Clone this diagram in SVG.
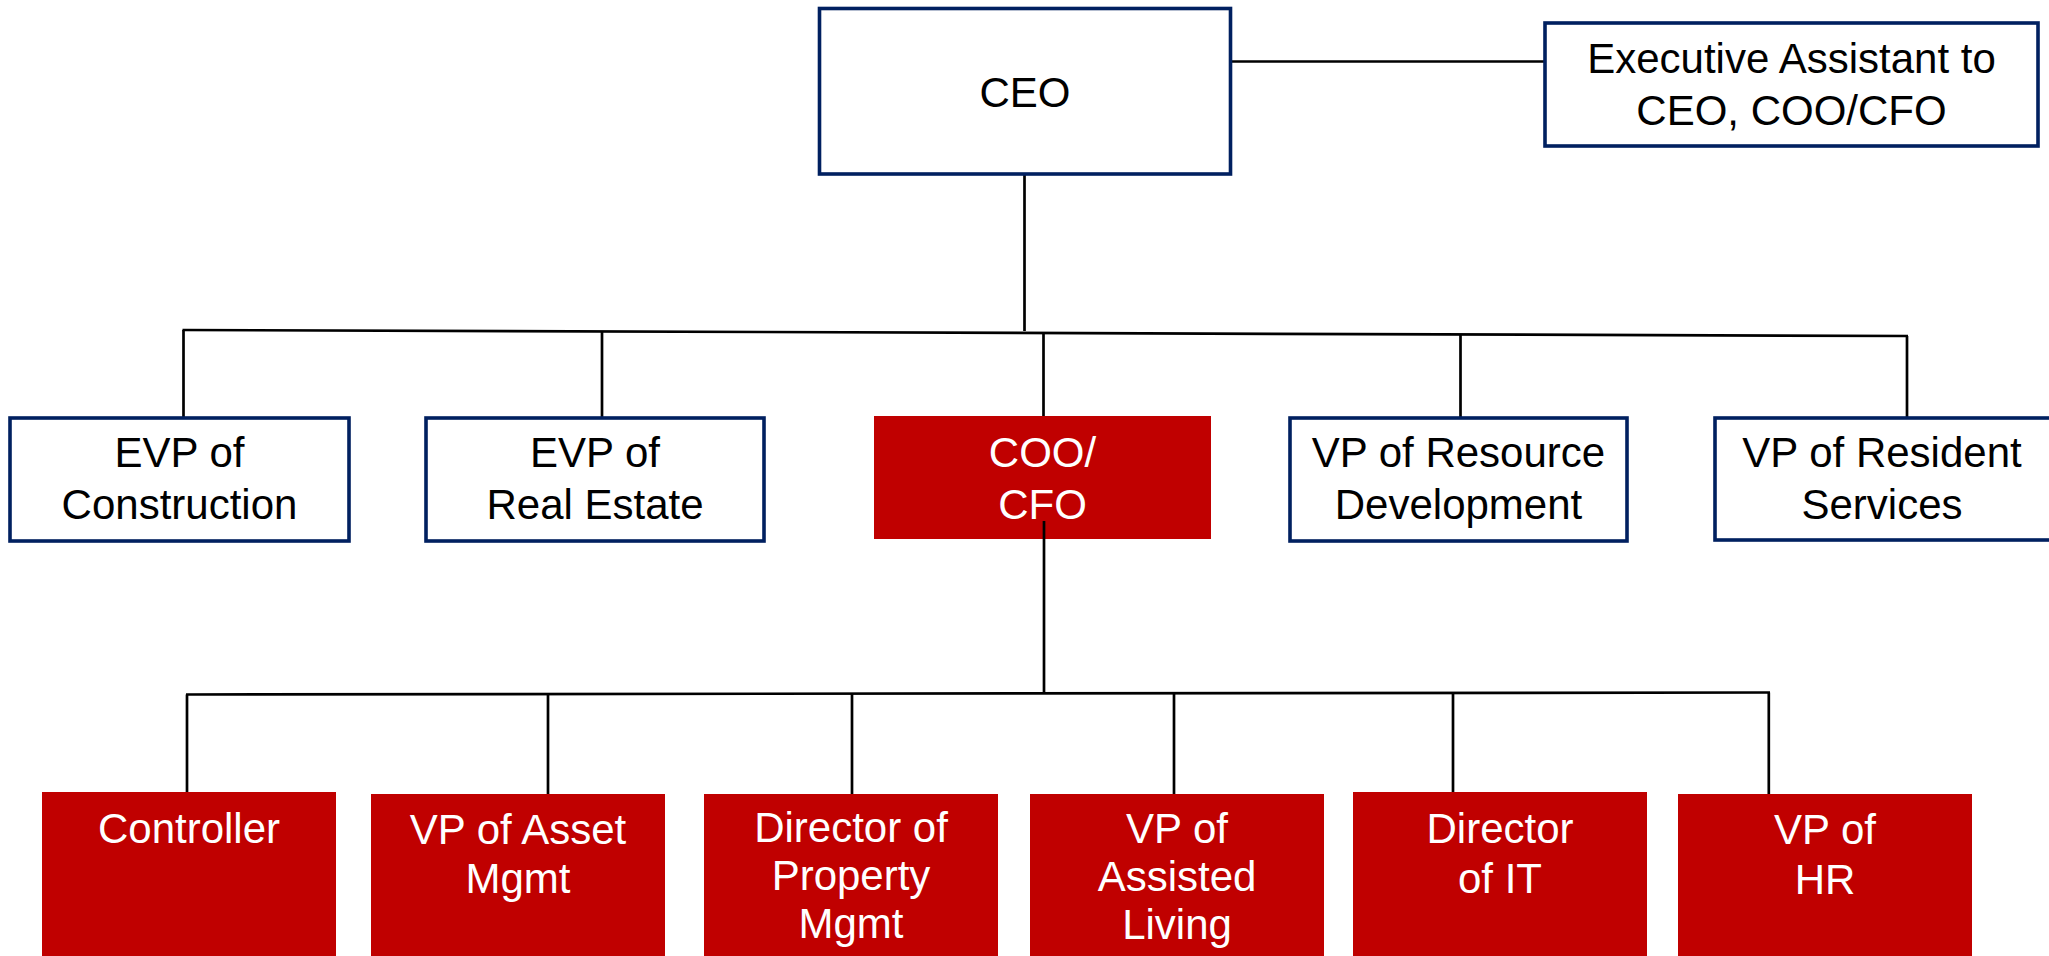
<svg xmlns="http://www.w3.org/2000/svg" width="2049" height="956" viewBox="0 0 2049 956">
<style>
.box{fill:#ffffff;stroke:#002060;stroke-width:3.6}
.red{fill:#c00000}
.t{font-family:"Liberation Sans",Arial,sans-serif;font-size:42px;text-anchor:middle;fill:#000000}
.w{fill:#ffffff}
.ln{stroke:#000000;stroke-width:2.7;fill:none}
</style>
<rect width="2049" height="956" fill="#ffffff"/>
<g id="connectors">
<line class="ln" x1="1230" y1="61.5" x2="1545" y2="61.5"/>
<line class="ln" x1="1024.5" y1="174" x2="1024.5" y2="331"/>
<line class="ln" x1="182.5" y1="330" x2="1908" y2="336"/>
<line class="ln" x1="183.5" y1="330" x2="183.5" y2="418"/>
<line class="ln" x1="602" y1="331.5" x2="602" y2="418"/>
<line class="ln" x1="1043.5" y1="333" x2="1043.5" y2="416"/>
<line class="ln" x1="1460.5" y1="334.5" x2="1460.5" y2="418"/>
<line class="ln" x1="1907" y1="336" x2="1907" y2="418"/>
<line class="ln" x1="1044" y1="521" x2="1044" y2="692"/>
<line class="ln" x1="186" y1="694.5" x2="1770" y2="692.5"/>
<line class="ln" x1="187" y1="694.5" x2="187" y2="792"/>
<line class="ln" x1="548" y1="694" x2="548" y2="794"/>
<line class="ln" x1="852" y1="693.8" x2="852" y2="794"/>
<line class="ln" x1="1174" y1="693.4" x2="1174" y2="794"/>
<line class="ln" x1="1453" y1="693" x2="1453" y2="792"/>
<line class="ln" x1="1768.8" y1="692.6" x2="1768.8" y2="794"/>
</g>
<g id="ceo">
<rect class="box" x="819.5" y="8.5" width="411" height="165.5"/>
<text class="t" x="1025" y="107">CEO</text>
</g>
<g id="exec-assistant">
<rect class="box" x="1545" y="23" width="493" height="123"/>
<text class="t" x="1791.5" y="73">Executive Assistant to</text>
<text class="t" x="1791.5" y="125">CEO, COO/CFO</text>
</g>
<g id="evp-construction">
<rect class="box" x="10" y="418" width="339" height="123"/>
<text class="t" x="179.5" y="467">EVP of</text>
<text class="t" x="179.5" y="519">Construction</text>
</g>
<g id="evp-real-estate">
<rect class="box" x="426" y="418" width="338" height="123"/>
<text class="t" x="595" y="467">EVP of</text>
<text class="t" x="595" y="519">Real Estate</text>
</g>
<g id="coo-cfo">
<rect class="red" x="874" y="416" width="337" height="123"/>
<text class="t w" x="1042.5" y="467">COO/</text>
<text class="t w" x="1042.5" y="519">CFO</text>
<line class="ln" x1="1044" y1="521" x2="1044" y2="539"/>
</g>
<g id="vp-resource-development">
<rect class="box" x="1290" y="418" width="337" height="123"/>
<text class="t" x="1458.5" y="467">VP of Resource</text>
<text class="t" x="1458.5" y="519">Development</text>
</g>
<g id="vp-resident-services">
<rect class="box" x="1715" y="418" width="340" height="122"/>
<text class="t" x="1882" y="467">VP of Resident</text>
<text class="t" x="1882" y="519">Services</text>
</g>
<g id="controller">
<rect class="red" x="42" y="792" width="294" height="170"/>
<text class="t w" x="189" y="843">Controller</text>
</g>
<g id="vp-asset-mgmt">
<rect class="red" x="371" y="794" width="294" height="170"/>
<text class="t w" x="518" y="844">VP of Asset</text>
<text class="t w" x="518" y="893">Mgmt</text>
</g>
<g id="director-property-mgmt">
<rect class="red" x="704" y="794" width="294" height="170"/>
<text class="t w" x="851" y="842">Director of</text>
<text class="t w" x="851" y="890">Property</text>
<text class="t w" x="851" y="938">Mgmt</text>
</g>
<g id="vp-assisted-living">
<rect class="red" x="1030" y="794" width="294" height="170"/>
<text class="t w" x="1177" y="843">VP of</text>
<text class="t w" x="1177" y="891">Assisted</text>
<text class="t w" x="1177" y="939">Living</text>
</g>
<g id="director-it">
<rect class="red" x="1353" y="792" width="294" height="170"/>
<text class="t w" x="1500" y="843">Director</text>
<text class="t w" x="1500" y="893">of IT</text>
</g>
<g id="vp-hr">
<rect class="red" x="1678" y="794" width="294" height="170"/>
<text class="t w" x="1825" y="844">VP of</text>
<text class="t w" x="1825" y="894">HR</text>
</g>
</svg>
